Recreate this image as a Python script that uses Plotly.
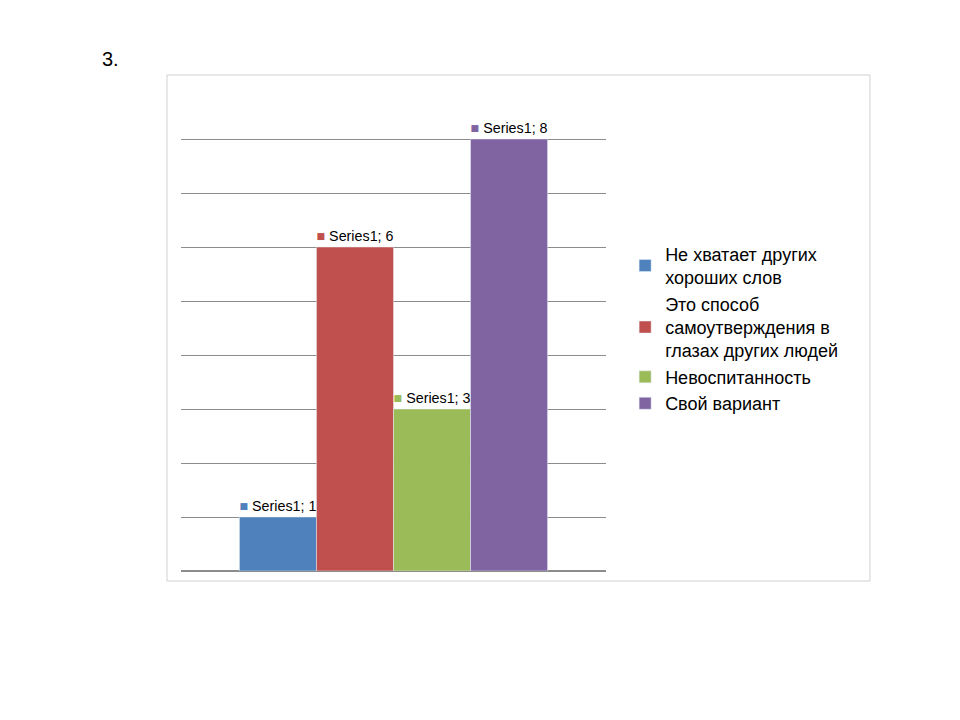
import plotly.graph_objects as go

categories = ["Не хватает других<br>хороших слов", "Это способ<br>самоутверждения в<br>глазах других людей", "Невоспитанность", "Свой вариант"]
values = [1, 6, 3, 8]
colors = ["#4F81BD", "#C0504D", "#9BBB59", "#8064A2"]
series_name = "Series1"

fig = go.Figure()
for name, v, c in zip(categories, values, colors):
    fig.add_trace(go.Bar(
        x=["c"], y=[v], name=name, marker_color=c,
        text=[f"<span style='color:{c}'>■</span> {series_name}; {v}"],
        textposition="outside", cliponaxis=False,
        textfont=dict(size=18, color="black"),
    ))

fig.update_layout(
    width=960, height=720, barmode="group", bargap=0.275, bargroupgap=0,
    margin=dict(l=173, r=362, t=77, b=157),
    paper_bgcolor="white", plot_bgcolor="white",
    font=dict(family="Liberation Sans, Open Sans", size=18, color="black"),
    showlegend=True,
    legend=dict(x=1.045, y=0.69, xanchor="left", yanchor="top", font=dict(size=18),
                tracegroupgap=4, itemwidth=30),
    xaxis=dict(showticklabels=False, showgrid=False, zeroline=False),
    yaxis=dict(range=[0, 9], dtick=1, showticklabels=False, showgrid=True,
               gridcolor="#8c8c8c", zeroline=True, zerolinecolor="#8c8c8c"),
    uniformtext=dict(mode=False),
)
fig.add_shape(type="rect", xref="paper", yref="paper", x0=-0.033, x1=1.621, y0=-0.0206, y1=1.0206,
              line=dict(color="#d0d0d0", width=1))
fig.add_annotation(text="3.", xref="paper", yref="paper", x=-0.19, y=1.08, showarrow=False,
                   xanchor="left", font=dict(size=20))
fig.write_html("out.html")
